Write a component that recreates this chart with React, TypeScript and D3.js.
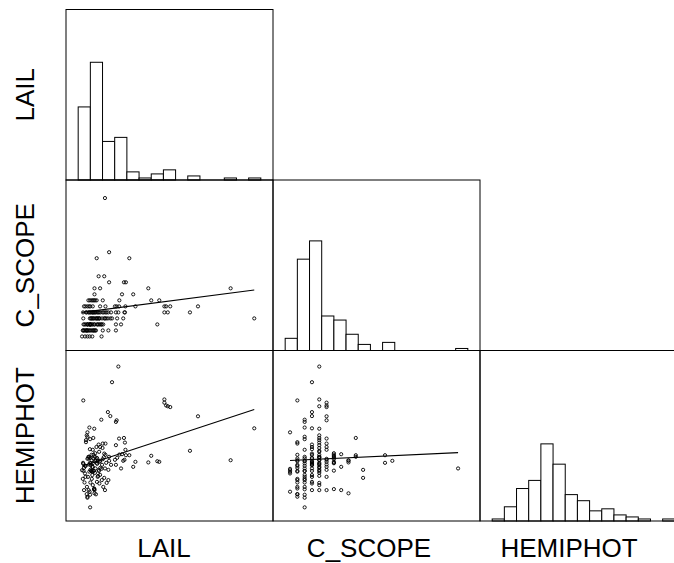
import React from "react";
import * as d3 from "d3";

// ---- variables ----
const VARIABLES = ["LAIL", "C_SCOPE", "HEMIPHOT"];
const DOMAINS: [number, number][] = [
  [0, 8.5],
  [5, 90],
  [5, 90],
];

// ---- histogram breaks and counts ----
const LAIL_BREAKS = [0.5, 1, 1.5, 2, 2.5, 3, 3.5, 4, 4.5, 5, 5.5, 6, 6.5, 7, 7.5, 8];
const LAIL_COUNTS = [36, 58, 19, 21, 4, 1, 3, 5, 0, 2, 0, 0, 1, 0, 1];
const CSCOPE_BREAKS = [10, 15, 20, 25, 30, 35, 40, 45, 50, 55, 60, 65, 70, 75, 80, 85];
const CSCOPE_COUNTS = [6, 45, 54, 17, 15, 8, 3, 0, 4, 0, 0, 0, 0, 0, 1];
const HEMIPHOT_BREAKS = [10, 15, 20, 25, 30, 35, 40, 45, 50, 55, 60, 65, 70, 75, 80, 85];
const HEMIPHOT_COUNTS = [1, 7, 16, 20, 38, 28, 13, 10, 5, 6, 3, 2, 1, 0, 1];
const HIST_MAX = 84;

// ---- observations (parallel arrays) ----
const LAIL = [
  0.66, 0.78, 0.88, 0.97, 1.08, 1.46,
  0.71, 0.82, 1.51, 0.92, 1.05, 1.2, 0.74, 1.1, 0.96, 0.69, 1.74, 1.0, 0.86, 1.16, 0.85, 1.23, 0.88, 2.05, 1.13, 0.78,
  1.45, 2.05, 0.96, 0.99, 1.28, 3.75, 1.02, 0.81, 2.26, 1.35, 0.9, 1.47, 0.76, 1.16, 0.99, 0.99, 1.1, 0.88, 1.18, 1.4, 1.06, 1.53, 0.88, 1.3, 0.72,
  1.89, 1.72, 1.82, 7.73, 1.34, 1.25, 0.98, 1.57, 1.12, 1.38, 1.02, 1.21, 1.08, 1.3, 1.37, 1.6, 0.71, 2.1, 2.35, 1.48, 1.15, 1.65, 1.05, 1.27,
  2.15, 4.04, 4.18, 0.85, 1.12, 0.82, 2.42, 2.05, 5.09, 1.5, 0.95, 1.22, 1.41, 1.03, 1.32, 1.67, 1.1, 0.93, 1.16, 1.36, 1.62, 1.0, 1.28, 1.85, 1.08, 1.74, 1.19, 2.4, 0.7, 1.55,
  4.04, 4.11, 4.28, 5.42, 2.08, 2.18, 1.62, 1.4, 2.85, 0.95, 1.1, 0.8, 0.74, 2.44, 2.01, 0.88, 1.0,
  3.5, 3.83, 2.19, 1.51, 0.92, 1.05, 1.15, 1.26, 0.98, 1.2, 1.1,
  1.17, 2.3, 2.76,
  1.17, 1.4, 3.38, 6.76,
  1.77, 2.38, 2.46,
  1.34, 1.57,
  1.26, 2.6,
  1.77,
  1.6,
];
const C_SCOPE = [
  12, 12, 12, 12, 12, 12,
  15, 15, 15, 15, 15, 15, 15, 15, 15, 15, 15, 15, 15, 15, 15, 15, 15, 15, 15, 15,
  18, 18, 18, 18, 18, 18, 18, 18, 18, 18, 18, 18, 18, 18, 18, 18, 18, 18, 18, 18, 18, 18, 18, 18, 18,
  21, 21, 21, 21, 21, 21, 21, 21, 21, 21, 21, 21, 21, 21, 21, 21, 21, 21, 21, 21, 21, 21, 21, 21,
  24, 24, 24, 24, 24, 24, 24, 24, 24, 24, 24, 24, 24, 24, 24, 24, 24, 24, 24, 24, 24, 24, 24, 24, 24, 24, 24, 24, 24, 24,
  27, 27, 27, 27, 27, 27, 27, 27, 27, 27, 27, 27, 27, 27, 27, 27, 27,
  30, 30, 30, 30, 30, 30, 30, 30, 30, 30, 30,
  33, 33, 33,
  36, 36, 36, 36,
  39, 39, 39,
  42, 42,
  51, 51,
  54,
  81,
];
const HEMIPHOT = [
  30.3, 28.7, 49.2, 19.6, 29.5, 31.0,
  65.1, 44.3, 43.6, 36.2, 35.3, 34.8, 31.5, 30.0, 29.6, 26.0, 25.4, 24.2, 22.0, 21.2, 18.4, 18.3, 17.1, 33.0, 38.0, 32.5,
  55.5, 54.4, 51.6, 45.8, 36.2, 34.8, 33.7, 32.5, 31.2, 29.9, 27.0, 25.4, 24.2, 20.8, 18.1, 11.8, 40.5, 47.0, 37.0, 28.0, 26.0, 22.0, 16.6, 35.0, 30.0,
  74.2, 59.3, 57.3, 51.2, 43.1, 41.9, 40.8, 38.6, 36.2, 34.5, 32.8, 31.2, 27.9, 27.0, 23.7, 20.4, 33.5, 36.5, 35.0, 33.0, 30.0, 34.0, 38.0, 24.5,
  82.0, 65.6, 62.2, 47.7, 46.4, 45.3, 44.1, 42.8, 40.0, 41.4, 37.0, 35.3, 31.5, 29.9, 27.5, 24.0, 22.9, 20.4, 51.0, 39.5, 38.0, 36.5, 33.5, 33.0, 32.0, 30.5, 29.0, 35.5, 34.0, 36.8,
  64.0, 62.6, 61.8, 57.2, 55.2, 46.1, 43.6, 41.9, 34.5, 33.2, 32.0, 27.0, 20.4, 40.5, 35.5, 36.0, 30.5,
  37.5, 34.5, 38.1, 35.8, 37.0, 30.1, 20.9, 36.5, 34.0, 38.8, 33.8,
  20.4, 38.3, 32.0,
  18.8, 35.0, 34.2, 35.3,
  37.0, 46.4, 37.8,
  30.5, 26.5,
  34.0, 37.8,
  35.0,
  31.2,
];

// ---- fitted straight lines: [intercept, slope] ----
const FIT_LAIL_CSCOPE = [22.96, 1.58];
const FIT_LAIL_HEMIPHOT = [29.7, 3.99];
const FIT_CSCOPE_HEMIPHOT = [34.5, 0.0565];

const DATA = [LAIL, C_SCOPE, HEMIPHOT];
const HISTS = [
  { breaks: LAIL_BREAKS, counts: LAIL_COUNTS },
  { breaks: CSCOPE_BREAKS, counts: CSCOPE_COUNTS },
  { breaks: HEMIPHOT_BREAKS, counts: HEMIPHOT_COUNTS },
];
const FITS: Record<string, number[]> = {
  "1-0": FIT_LAIL_CSCOPE,
  "2-0": FIT_LAIL_HEMIPHOT,
  "2-1": FIT_CSCOPE_HEMIPHOT,
};

const W = 674;
const H = 563;
const LEFT = 66;
const TOP = 9.5;
const PW = 207;
const PH = 170.5;
const BOTTOM_LABEL_SHIFT = [-5.5, -7.5, -14.5];
const FONT = "'Liberation Sans', Arial, Helvetica, sans-serif";

export default function App() {
  const xs = VARIABLES.map((_, i) =>
    d3.scaleLinear().domain(DOMAINS[i]).range([LEFT + i * PW, LEFT + (i + 1) * PW])
  );
  const ys = VARIABLES.map((_, j) =>
    d3.scaleLinear().domain(DOMAINS[j]).range([TOP + (j + 1) * PH, TOP + j * PH])
  );

  const panels: React.ReactNode[] = [];
  for (let j = 0; j < 3; j++) {
    for (let i = 0; i <= j; i++) {
      const x0 = LEFT + i * PW;
      const y0 = TOP + j * PH;
      const key = `${j}-${i}`;
      if (i === j) {
        const hy = d3.scaleLinear().domain([0, HIST_MAX]).range([y0 + PH, y0]);
        const { breaks, counts } = HISTS[i];
        panels.push(
          <g key={key}>
            {counts.map((c, k) =>
              c > 0 ? (
                <rect
                  key={k}
                  x={xs[i](breaks[k])}
                  y={hy(c)}
                  width={xs[i](breaks[k + 1]) - xs[i](breaks[k])}
                  height={hy(0) - hy(c)}
                  fill="white"
                  stroke="black"
                  strokeWidth={1}
                />
              ) : null
            )}
            <rect x={x0} y={y0} width={PW} height={PH} fill="none" stroke="black" strokeWidth={1} />
          </g>
        );
      } else {
        const xv = DATA[i];
        const yv = DATA[j];
        const fit = FITS[key];
        const [xmin, xmax] = d3.extent(xv) as [number, number];
        const line = d3
          .line<number>()
          .x((d) => xs[i](d))
          .y((d) => ys[j](fit[0] + fit[1] * d));
        panels.push(
          <g key={key}>
            {xv.map((v, k) => (
              <circle
                key={k}
                cx={xs[i](v)}
                cy={ys[j](yv[k])}
                r={1.6}
                fill="none"
                stroke="black"
                strokeWidth={0.9}
              />
            ))}
            <path d={line([xmin, xmax]) || ""} fill="none" stroke="black" strokeWidth={1.1} />
            <rect x={x0} y={y0} width={PW} height={PH} fill="none" stroke="black" strokeWidth={1} />
          </g>
        );
      }
    }
  }

  return (
    <svg
      width={W}
      height={H}
      style={{ position: "absolute", left: 0, top: 0, background: "white" }}
      fontFamily={FONT}
    >
      <rect x={0} y={0} width={W} height={H} fill="white" />
      {panels}
      {VARIABLES.map((v, j) => (
        <text
          key={"r" + v}
          transform={`translate(34,${TOP + j * PH + PH / 2}) rotate(-90)`}
          textAnchor="middle"
          fontSize={26}
          fill="black"
        >
          {v}
        </text>
      ))}
      {VARIABLES.map((v, i) => (
        <text
          key={"c" + v}
          x={LEFT + i * PW + PW / 2 + BOTTOM_LABEL_SHIFT[i]}
          y={557}
          textAnchor="middle"
          fontSize={26}
          fill="black"
        >
          {v}
        </text>
      ))}
    </svg>
  );
}
